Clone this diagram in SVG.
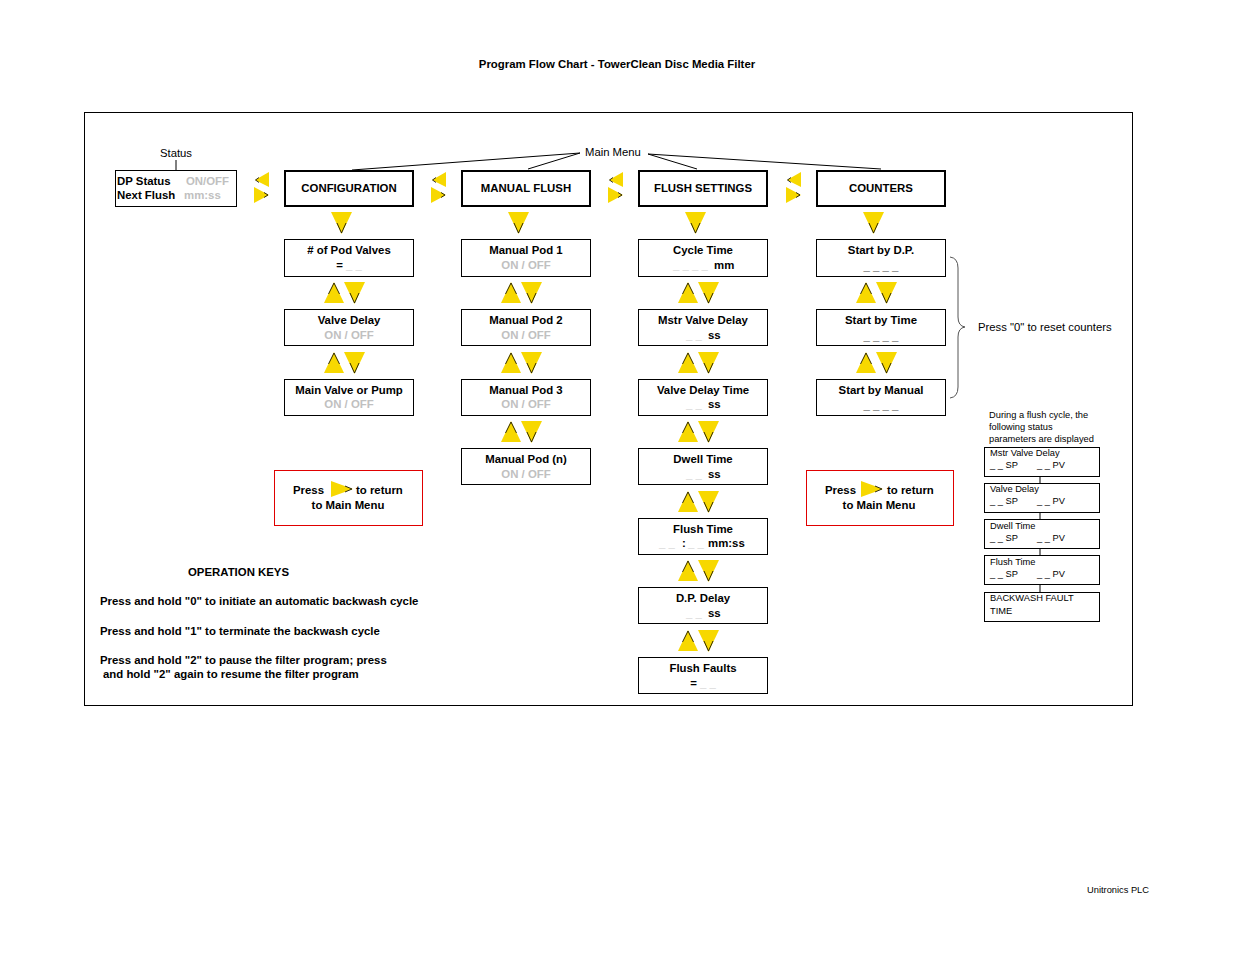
<svg xmlns="http://www.w3.org/2000/svg" width="1235" height="954" viewBox="0 0 1235 954">
<style>
text{font-family:"Liberation Sans",Arial,sans-serif;fill:#000}
.b{font-weight:bold;font-size:11.4px}
.n{font-size:11.3px}
.s{font-size:9.3px}
.g{fill:#c0c0c0}
.m{text-anchor:middle}
.box{fill:#fff;stroke:#000;stroke-width:1}
.tbox{fill:#fff;stroke:#000;stroke-width:2}
.red{fill:#fff;stroke:#e00000;stroke-width:1}
.ln{stroke:#000;stroke-width:1;fill:none}
.tri{fill:#f7d800}
.chev{fill:none;stroke:#000;stroke-width:0.8}
</style>
<defs>
<g id="tl"><polygon class="tri" points="15,0 15,15 1,8"/><polyline class="chev" points="5,5.5 1.5,8 5,10.5"/></g>
<g id="tr"><polygon class="tri" points="0,0 15,8 0,16"/><polyline class="chev" points="10,5.5 14,8 10,10.5"/></g>
<g id="tu"><polygon class="tri" points="0,21 10,0 20,21"/><polyline class="chev" points="4.5,12 10,1 15.5,12"/></g>
<g id="td"><polygon class="tri" points="0,0 21,0 10.5,22"/><polyline class="chev" points="6,11 10.5,21 15,11"/></g>
<g id="trb"><polygon class="tri" points="0,0 22,8 0,16"/><polyline class="chev" points="14,5 21,8 14,11"/></g>
</defs>
<rect width="1235" height="954" fill="#fff"/>
<text class="b m" x="617" y="68">Program Flow Chart - TowerClean Disc Media Filter</text>
<rect x="84.5" y="112.5" width="1048" height="593" fill="none" stroke="#000" stroke-width="1"/>

<g id="connectors">
<line class="ln" x1="176" y1="160" x2="176" y2="170"/>
<polyline class="ln" points="352,170 580,153"/>
<polyline class="ln" points="528,169 580,153"/>
<polyline class="ln" points="697,169 648,154"/>
<polyline class="ln" points="881,169 648,154"/>
<path d="M950,257 Q958,258 958,268 L958,317 Q958,326 965,327 Q958,328 958,337 L958,387 Q958,397 950,398" fill="none" stroke="#555" stroke-width="1"/>
<line class="ln" x1="1040" y1="476" x2="1040" y2="483"/>
<line class="ln" x1="1040" y1="513" x2="1040" y2="519"/>
<line class="ln" x1="1040" y1="549" x2="1040" y2="555"/>
<line class="ln" x1="1040" y1="584" x2="1040" y2="592"/>
</g>

<g id="labels">
<text class="n m" x="176" y="157">Status</text>
<text class="n" x="585" y="156">Main Menu</text>
<text class="n" x="978" y="331">Press "0" to reset counters</text>
<text class="s" x="989" y="418">During a flush cycle, the</text>
<text class="s" x="989" y="430">following status</text>
<text class="s" x="989" y="442">parameters are displayed</text>
<text class="b" x="188" y="576">OPERATION KEYS</text>
<text class="b" x="100" y="605">Press and hold "0" to initiate an automatic backwash cycle</text>
<text class="b" x="100" y="635">Press and hold "1" to terminate the backwash cycle</text>
<text class="b" x="100" y="664">Press and hold "2" to pause the filter program; press</text>
<text class="b" x="103" y="678">and hold "2" again  to resume the filter program</text>
<text class="s" x="1087" y="893">Unitronics PLC</text>
</g>

<g id="status">
<rect class="box" x="115.5" y="170.5" width="121" height="36"/>
<text class="b" x="117" y="185">DP Status</text>
<text class="b g" x="186" y="185">ON/OFF</text>
<text class="b" x="117" y="199">Next Flush</text>
<text class="b g" x="184" y="199">mm:ss</text>
</g>

<g id="lr-arrows">
<use href="#tl" x="254" y="172"/><use href="#tr" x="254" y="187"/>
<use href="#tl" x="431" y="172"/><use href="#tr" x="431" y="187"/>
<use href="#tl" x="608" y="172"/><use href="#tr" x="608" y="187"/>
<use href="#tl" x="786" y="172"/><use href="#tr" x="786" y="187"/>
</g>

<g id="menu-configuration"><rect class="tbox" x="285" y="171" width="128" height="35"/><text class="b m" x="349" y="192">CONFIGURATION</text></g>
<g id="menu-manual-flush"><rect class="tbox" x="462" y="171" width="128" height="35"/><text class="b m" x="526" y="192">MANUAL FLUSH</text></g>
<g id="menu-flush-settings"><rect class="tbox" x="639" y="171" width="128" height="35"/><text class="b m" x="703" y="192">FLUSH SETTINGS</text></g>
<g id="menu-counters"><rect class="tbox" x="817" y="171" width="128" height="35"/><text class="b m" x="881" y="192">COUNTERS</text></g>

<g id="down-arrows">
<use href="#td" x="331" y="212"/>
<use href="#td" x="508" y="212"/>
<use href="#td" x="685" y="212"/>
<use href="#td" x="863" y="212"/>
</g>

<g id="pod-valves"><rect class="box" x="284.5" y="239.5" width="129" height="37"/><text class="b m" x="349" y="254"># of Pod Valves</text><text class="b m" x="349" y="269">= <tspan class="g">_ _</tspan></text></g>
<g id="valve-delay"><rect class="box" x="284.5" y="309.5" width="129" height="36"/><text class="b m" x="349" y="324">Valve Delay</text><text class="b m g" x="349" y="339">ON / OFF</text></g>
<g id="main-valve"><rect class="box" x="284.5" y="379.5" width="129" height="36"/><text class="b m" x="349" y="394">Main Valve or Pump</text><text class="b m g" x="349" y="408">ON / OFF</text></g>

<g id="pod1"><rect class="box" x="461.5" y="239.5" width="129" height="37"/><text class="b m" x="526" y="254">Manual Pod 1</text><text class="b m g" x="526" y="269">ON / OFF</text></g>
<g id="pod2"><rect class="box" x="461.5" y="309.5" width="129" height="36"/><text class="b m" x="526" y="324">Manual Pod 2</text><text class="b m g" x="526" y="339">ON / OFF</text></g>
<g id="pod3"><rect class="box" x="461.5" y="379.5" width="129" height="36"/><text class="b m" x="526" y="394">Manual Pod 3</text><text class="b m g" x="526" y="408">ON / OFF</text></g>
<g id="podn"><rect class="box" x="461.5" y="448.5" width="129" height="36"/><text class="b m" x="526" y="463">Manual Pod (n)</text><text class="b m g" x="526" y="478">ON / OFF</text></g>

<g id="cycle-time"><rect class="box" x="638.5" y="239.5" width="129" height="37"/><text class="b m" x="703" y="254">Cycle Time</text><text class="b" x="673" y="269"><tspan class="g">_ _ _ _</tspan><tspan x="714">mm</tspan></text></g>
<g id="mstr-valve-delay"><rect class="box" x="638.5" y="309.5" width="129" height="36"/><text class="b m" x="703" y="324">Mstr Valve Delay</text><text class="b" x="686" y="339"><tspan class="g">_ _</tspan><tspan x="708">ss</tspan></text></g>
<g id="valve-delay-time"><rect class="box" x="638.5" y="379.5" width="129" height="36"/><text class="b m" x="703" y="394">Valve Delay Time</text><text class="b" x="686" y="408"><tspan class="g">_ _</tspan><tspan x="708">ss</tspan></text></g>
<g id="dwell-time"><rect class="box" x="638.5" y="448.5" width="129" height="36"/><text class="b m" x="703" y="463">Dwell Time</text><text class="b" x="686" y="478"><tspan class="g">_ _</tspan><tspan x="708">ss</tspan></text></g>
<g id="flush-time"><rect class="box" x="638.5" y="518.5" width="129" height="36"/><text class="b m" x="703" y="533">Flush Time</text><text class="b" x="659" y="547"><tspan class="g">_ _</tspan><tspan x="682">:</tspan><tspan class="g" x="688">_ _</tspan><tspan x="708">mm:ss</tspan></text></g>
<g id="dp-delay"><rect class="box" x="638.5" y="587.5" width="129" height="36"/><text class="b m" x="703" y="602">D.P. Delay</text><text class="b" x="686" y="617"><tspan class="g">_ _</tspan><tspan x="708">ss</tspan></text></g>
<g id="flush-faults"><rect class="box" x="638.5" y="657.5" width="129" height="36"/><text class="b m" x="703" y="672">Flush Faults</text><text class="b m" x="703" y="687">= <tspan class="g">_ _</tspan></text></g>

<g id="start-dp"><rect class="box" x="816.5" y="239.5" width="129" height="37"/><text class="b m" x="881" y="254">Start by D.P.</text><text class="b m" x="881" y="270">_ _ _ _</text></g>
<g id="start-time"><rect class="box" x="816.5" y="309.5" width="129" height="36"/><text class="b m" x="881" y="324">Start by Time</text><text class="b m" x="881" y="340">_ _ _ _</text></g>
<g id="start-manual"><rect class="box" x="816.5" y="379.5" width="129" height="36"/><text class="b m" x="881" y="394">Start by Manual</text><text class="b m" x="881" y="409">_ _ _ _</text></g>

<g id="updown-arrows">
<use href="#tu" x="324" y="282"/><use href="#td" x="344" y="282"/>
<use href="#tu" x="324" y="352"/><use href="#td" x="344" y="352"/>
<use href="#tu" x="501" y="282"/><use href="#td" x="521" y="282"/>
<use href="#tu" x="501" y="352"/><use href="#td" x="521" y="352"/>
<use href="#tu" x="501" y="421"/><use href="#td" x="521" y="421"/>
<use href="#tu" x="678" y="282"/><use href="#td" x="698" y="282"/>
<use href="#tu" x="678" y="352"/><use href="#td" x="698" y="352"/>
<use href="#tu" x="678" y="421"/><use href="#td" x="698" y="421"/>
<use href="#tu" x="678" y="491"/><use href="#td" x="698" y="491"/>
<use href="#tu" x="678" y="560"/><use href="#td" x="698" y="560"/>
<use href="#tu" x="678" y="630"/><use href="#td" x="698" y="630"/>
<use href="#tu" x="856" y="282"/><use href="#td" x="876" y="282"/>
<use href="#tu" x="856" y="352"/><use href="#td" x="876" y="352"/>
</g>

<g id="return-config"><rect class="red" x="274.5" y="470.5" width="148" height="55"/><text class="b" x="293" y="494">Press</text><use href="#trb" x="331" y="481"/><text class="b" x="356" y="494">to return</text><text class="b m" x="348" y="509">to Main Menu</text></g>
<g id="return-counters"><rect class="red" x="806.5" y="470.5" width="147" height="55"/><text class="b" x="825" y="494">Press</text><use href="#trb" x="861" y="481"/><text class="b" x="887" y="494">to return</text><text class="b m" x="879" y="509">to Main Menu</text></g>

<g id="sp-mstr"><rect class="box" x="984.5" y="447.5" width="115" height="29"/><text class="s" x="990" y="456">Mstr Valve Delay</text><text class="s" x="990" y="468">_ _ SP</text><text class="s" x="1037" y="468">_ _ PV</text></g>
<g id="sp-valve"><rect class="box" x="984.5" y="483.5" width="115" height="29"/><text class="s" x="990" y="492">Valve Delay</text><text class="s" x="990" y="504">_ _ SP</text><text class="s" x="1037" y="504">_ _ PV</text></g>
<g id="sp-dwell"><rect class="box" x="984.5" y="519.5" width="115" height="29"/><text class="s" x="990" y="529">Dwell Time</text><text class="s" x="990" y="541">_ _ SP</text><text class="s" x="1037" y="541">_ _ PV</text></g>
<g id="sp-flush"><rect class="box" x="984.5" y="555.5" width="115" height="29"/><text class="s" x="990" y="565">Flush Time</text><text class="s" x="990" y="577">_ _ SP</text><text class="s" x="1037" y="577">_ _ PV</text></g>
<g id="sp-fault"><rect class="box" x="984.5" y="592.5" width="115" height="29"/><text class="s" x="990" y="601">BACKWASH FAULT</text><text class="s" x="990" y="614">TIME</text></g>
</svg>
